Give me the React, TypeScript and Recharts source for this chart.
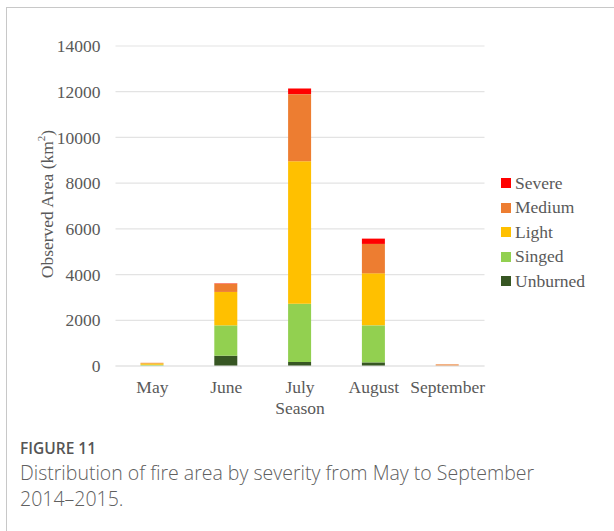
import React from 'react';
import { BarChart, Bar, XAxis, YAxis, CartesianGrid, Label } from 'recharts';

const months = ['May', 'June', 'July', 'August', 'September'];
const unburned = [5, 450, 175, 158, 0];
const singed = [50, 1328, 2553, 1620, 5];
const light = [60, 1462, 6230, 2276, 5];
const medium = [25, 363, 2936, 1287, 60];
const severe = [0, 15, 247, 232, 0];
const yTicks = [0, 2000, 4000, 6000, 8000, 10000, 12000, 14000];

const seriesNames = ['Unburned', 'Singed', 'Light', 'Medium', 'Severe'];
const seriesColors = ['#375623', '#92D050', '#FFC000', '#ED7D31', '#FF0000'];
const seriesValues = [unburned, singed, light, medium, severe];

const data = months.map((m, i) => {
  const row: Record<string, number | string> = { month: m };
  seriesNames.forEach((s, j) => {
    row[s] = seriesValues[j][i];
  });
  return row;
});

const serif = '"Liberation Serif", "Times New Roman", serif';
const axisColor = '#595959';

export default function App() {
  const legendOrder = [...seriesNames].reverse();
  const legendColors = [...seriesColors].reverse();
  return (
    <div style={{ position: 'absolute', left: 0, top: 0, width: 614, height: 531, background: '#fff', overflow: 'hidden' }}>
      <div style={{ position: 'absolute', left: 6, top: 7, width: 700, height: 600, borderLeft: '1.5px solid #c8c8c8', borderTop: '1.5px solid #c8c8c8' }} />
      <div style={{ position: 'absolute', left: 0, top: 0 }}>
        <BarChart
          width={614}
          height={420}
          data={data}
          margin={{ top: 46, right: 129.5, left: 0, bottom: 0 }}
          barSize={23}
        >
          <CartesianGrid vertical={false} stroke="#e3e3e3" strokeWidth={1.2} />
          <XAxis
            dataKey="month"
            height={54}
            axisLine={{ stroke: '#e3e3e3', strokeWidth: 1.2 }}
            tickLine={false}
            tick={{ fill: axisColor, fontSize: 17.5, fontFamily: serif }}
            tickMargin={9}
            interval={0}
          >
            <Label value="Season" position="insideTop" offset={36} style={{ fill: axisColor, fontSize: 17.5, fontFamily: serif }} />
          </XAxis>
          <YAxis
            width={115.5}
            domain={[0, 14000]}
            ticks={yTicks}
            axisLine={false}
            tickLine={false}
            tick={{ fill: axisColor, fontSize: 17.5, fontFamily: serif }}
            tickMargin={9}
          >
            <Label
              angle={-90}
              position="insideLeft"
              offset={0}
              content={(props: any) => {
                const vb = props.viewBox || {};
                const cx = 47;
                const cy = (vb.y || 46) + (vb.height || 320) / 2 - 2;
                return (
                  <text
                    x={cx}
                    y={cy}
                    transform={`rotate(-90, ${cx}, ${cy})`}
                    textAnchor="middle"
                    dominantBaseline="central"
                    fill={axisColor}
                    fontSize={17.5}
                    fontFamily={serif}
                  >
                    Observed Area (km<tspan dy={-6} fontSize={11}>2</tspan><tspan dy={6}>)</tspan>
                  </text>
                );
              }}
            />
          </YAxis>
          {seriesNames.map((s, j) => (
            <Bar key={s} dataKey={s} stackId="a" fill={seriesColors[j]} isAnimationActive={false} />
          ))}
        </BarChart>
      </div>
      <div style={{ position: 'absolute', left: 501, top: 171 }}>
        {legendOrder.map((s, i) => (
          <div key={s} style={{ display: 'flex', alignItems: 'center', height: 24.5, fontFamily: serif, fontSize: 17.5, color: axisColor }}>
            <span style={{ display: 'inline-block', width: 10, height: 10, background: legendColors[i], marginRight: 4 }} />
            <span>{s}</span>
          </div>
        ))}
      </div>
      <div style={{ position: 'absolute', left: 20, top: 437, fontFamily: '"Open Sans", sans-serif', fontSize: 15.5, fontWeight: 600, color: '#555' }}>
        FIGURE 11
      </div>
      <div style={{ position: 'absolute', left: 20, top: 460, width: 580, fontFamily: '"Open Sans", sans-serif', fontSize: 19.5, lineHeight: '25.5px', fontWeight: 300, color: '#606060' }}>
        Distribution of fire area by severity from May to September{' '}
        <span style={{ whiteSpace: 'nowrap' }}>2014–2015.</span>
      </div>
    </div>
  );
}
